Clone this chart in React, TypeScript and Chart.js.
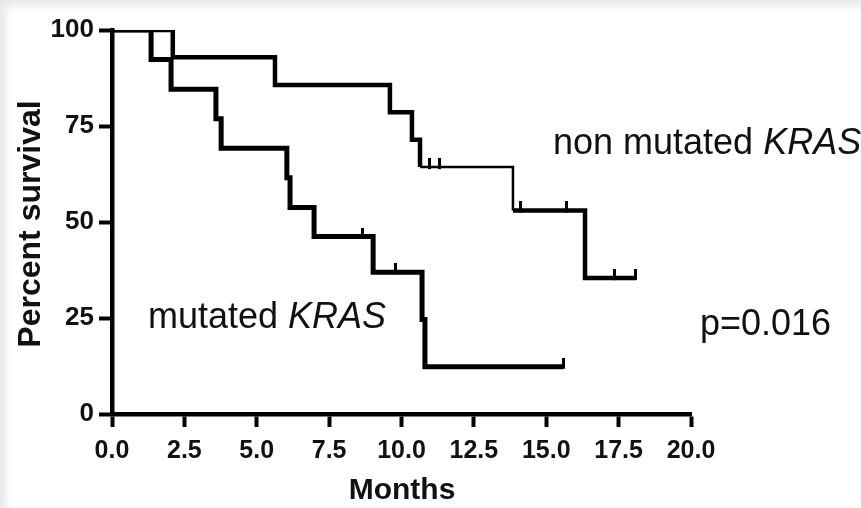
import React, { useEffect, useRef } from "react";
import { Chart, registerables } from "chart.js";

Chart.register(...registerables);

// Kaplan-Meier: non mutated KRAS
const nonMutTimes = [0, 2.1, 5.63, 9.6, 10.36, 10.64, 13.85, 16.34, 18.07];
const nonMutSurv = [100, 92.9, 85.7, 78.6, 71.4, 64.3, 53.0, 35.4, 35.4];
const nonMutCensorTimes = [10.95, 11.3, 14.1, 15.7, 17.37, 18.07];
const nonMutCensorSurv = [64.3, 64.3, 53.0, 53.0, 35.4, 35.4];

// Kaplan-Meier: mutated KRAS
const mutTimes = [0, 1.35, 2.04, 3.59, 3.77, 6.04, 6.15, 6.98, 9.02, 10.71, 10.81, 15.58];
const mutSurv = [100, 92.3, 84.6, 76.9, 69.2, 61.5, 53.8, 46.2, 36.9, 24.6, 12.3, 12.3];
const mutCensorTimes = [8.67, 9.81, 15.58];
const mutCensorSurv = [46.2, 36.9, 12.3];

const xTickValues = [0, 2.5, 5, 7.5, 10, 12.5, 15, 17.5, 20];
const yTickValues = [0, 25, 50, 75, 100];

const FONT = '"Liberation Sans", Arial, Helvetica, sans-serif';

const toPoints = (xs: number[], ys: number[]) => xs.map((x, i) => ({ x, y: ys[i] }));

const textPlugin = {
  id: "kmTexts",
  afterDraw(chart: any) {
    const ctx = chart.ctx as CanvasRenderingContext2D;
    ctx.save();
    ctx.fillStyle = "#111";
    ctx.textBaseline = "alphabetic";

    // y-axis title
    ctx.save();
    ctx.font = `bold 32px ${FONT}`;
    ctx.translate(40, 224);
    ctx.rotate(-Math.PI / 2);
    ctx.textAlign = "center";
    ctx.fillText("Percent survival", 0, 0);
    ctx.restore();

    // x-axis title
    ctx.font = `bold 30px ${FONT}`;
    ctx.textAlign = "center";
    ctx.fillText("Months", 402, 499);

    // annotations
    ctx.textAlign = "left";
    const drawMixed = (plain: string, ital: string, x: number, y: number) => {
      ctx.font = `36px ${FONT}`;
      ctx.fillText(plain, x, y);
      const w = ctx.measureText(plain).width;
      ctx.font = `italic 36px ${FONT}`;
      ctx.fillText(ital, x + w, y);
    };
    drawMixed("non mutated ", "KRAS", 553, 154);
    drawMixed("mutated ", "KRAS", 148, 328);
    ctx.font = `36px ${FONT}`;
    ctx.fillText("p=0.016", 700, 335);
    ctx.restore();
  },
};

export default function App() {
  const ref = useRef<HTMLCanvasElement | null>(null);

  useEffect(() => {
    if (!ref.current) return;
    const tick = document.createElement("canvas");
    tick.width = 3;
    tick.height = 18;
    const tctx = tick.getContext("2d")!;
    tctx.fillStyle = "#000";
    tctx.fillRect(0, 0, 3, 11);

    const lineBase = {
      showLine: true,
      stepped: true as const,
      borderColor: "#000",
      borderCapStyle: "butt" as const,
      borderJoinStyle: "miter" as const,
      pointRadius: 0,
      fill: false,
    };

    const chart = new Chart(ref.current, {
      type: "scatter",
      data: {
        datasets: [
          {
            ...lineBase,
            label: "non mutated KRAS",
            borderWidth: 4.5,
            data: toPoints(nonMutTimes, nonMutSurv),
            segment: {
              borderWidth: (c: any) => (c.p0DataIndex === 5 ? 2.5 : 4.5),
            },
          } as any,
          { ...lineBase, label: "mutated KRAS", borderWidth: 5, data: toPoints(mutTimes, mutSurv) },
          {
            label: "censored non mutated",
            data: toPoints(nonMutCensorTimes, nonMutCensorSurv),
            showLine: false,
            pointStyle: tick as any,
            pointRadius: 5,
          },
          {
            label: "censored mutated",
            data: toPoints(mutCensorTimes, mutCensorSurv),
            showLine: false,
            pointStyle: tick as any,
            pointRadius: 5,
          },
        ],
      },
      options: {
        animation: false,
        responsive: false,
        maintainAspectRatio: false,
        layout: { padding: { top: 30, right: 170, left: 0, bottom: 0 } },
        plugins: { legend: { display: false }, tooltip: { enabled: false } },
        scales: {
          x: {
            type: "linear",
            min: 0,
            max: 20,
            afterBuildTicks: (s: any) => {
              s.ticks = xTickValues.map((v) => ({ value: v }));
            },
            afterFit: (s: any) => {
              s.height = 94;
            },
            ticks: {
              autoSkip: false,
              maxRotation: 0,
              padding: 9,
              color: "#111",
              font: { family: FONT, size: 25, weight: "bold" },
              callback: (v: any) => Number(v).toFixed(1),
            },
            grid: {
              drawOnChartArea: false,
              drawTicks: true,
              tickLength: 13,
              tickWidth: 4,
              tickColor: "#000",
            },
            border: { display: true, color: "#000", width: 4.5 },
          },
          y: {
            type: "linear",
            min: 0,
            max: 100,
            afterBuildTicks: (s: any) => {
              s.ticks = yTickValues.map((v) => ({ value: v }));
            },
            afterFit: (s: any) => {
              s.width = 112;
            },
            ticks: {
              autoSkip: false,
              padding: 5,
              color: "#111",
              font: { family: FONT, size: 26, weight: "bold" },
              callback: (v: any) => String(v),
            },
            grid: {
              drawOnChartArea: false,
              drawTicks: true,
              tickLength: 13,
              tickWidth: 4,
              tickColor: "#000",
            },
            border: { display: true, color: "#000", width: 4.5 },
          },
        },
      },
      plugins: [textPlugin],
    });
    return () => chart.destroy();
  }, []);

  return (
    <div
      style={{
        position: "fixed",
        left: 0,
        top: 0,
        width: 861,
        height: 508,
        background: "#fff",
        boxShadow: "inset 5px 5px 10px rgba(0,0,0,0.10)",
      }}
    >
      <canvas ref={ref} width={861} height={508} style={{ display: "block" }} />
    </div>
  );
}
